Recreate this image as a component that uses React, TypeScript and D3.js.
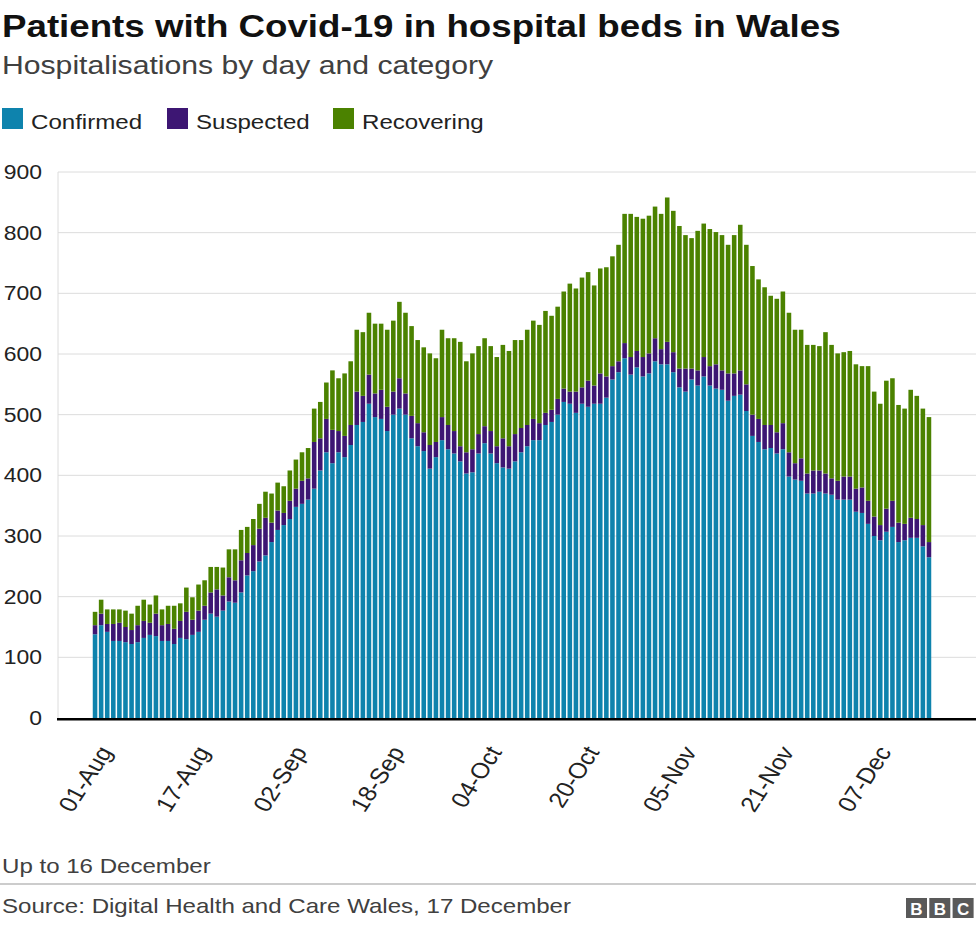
import React from "react";
import * as d3 from "d3";

const confirmed = [
  138,153,142,127,127,125,122,125,132,137,
  135,127,127,122,132,130,137,142,162,172,
  167,177,192,190,207,235,242,258,268,290,
  310,318,328,348,353,360,378,408,438,420,
  438,430,450,483,488,518,496,493,473,500,
  510,500,461,448,440,411,430,458,443,436,
  423,403,405,436,453,436,420,413,411,423,
  438,448,458,458,483,488,500,521,518,503,
  518,513,518,518,528,558,570,593,566,578,
  563,568,588,583,583,570,545,538,558,548,
  563,548,543,541,523,531,533,506,465,455,
  443,445,436,443,398,393,391,370,370,373,
  370,368,360,360,360,340,338,320,300,293,
  307,315,290,293,297,297,283,265,
];
const suspected = [
  15,19,13,28,30,25,23,28,28,20,
  37,26,28,25,28,45,25,35,23,35,
  45,25,40,37,53,37,43,54,62,32,
  32,20,30,30,38,35,77,53,55,55,
  35,35,33,55,43,48,39,48,40,38,
  50,35,37,38,31,39,25,38,40,37,
  25,35,38,32,28,37,28,48,37,45,
  40,35,35,28,20,20,26,22,20,35,
  27,43,30,50,35,22,18,25,29,27,
  32,33,38,25,37,33,31,38,18,25,
  32,32,40,32,45,37,40,44,35,38,
  40,38,35,43,40,27,37,33,38,35,
  33,27,31,38,38,38,42,38,32,25,
  38,43,32,27,33,31,35,25,
];
const recovering = [
  22,23,24,24,22,27,27,32,35,30,
  30,26,30,38,29,40,37,43,42,42,
  37,46,46,51,50,43,43,41,43,48,
  46,44,50,48,47,50,55,60,60,98,
  87,103,105,102,105,102,115,109,127,117,
  126,133,148,137,140,151,138,144,143,153,
  172,150,158,145,145,140,147,154,157,155,
  145,157,162,162,168,155,152,160,178,170,
  181,179,165,173,180,181,192,213,236,221,
  228,227,217,223,238,233,235,220,215,230,
  220,226,218,223,212,228,240,230,245,230,
  227,213,220,217,230,220,212,212,207,205,
  233,220,210,205,207,205,200,222,206,200,
  211,202,194,190,211,203,192,206,
];

const seriesKeys = ["confirmed", "suspected", "recovering"];
const seriesLabels = ["Confirmed", "Suspected", "Recovering"];
const seriesColors = ["#0e83ad", "#3d1673", "#4b8200"];

const startDate = new Date(2020, 7, 1);
const days = d3.timeDay.range(startDate, d3.timeDay.offset(startDate, confirmed.length));
const fmt = d3.timeFormat("%d-%b");
const tickLabels = ["01-Aug", "17-Aug", "02-Sep", "18-Sep", "04-Oct", "20-Oct", "05-Nov", "21-Nov", "07-Dec"];
const yTicks = [0, 100, 200, 300, 400, 500, 600, 700, 800, 900];

const W = 976;
const H = 930;
const SX = 1.147;
const FONT = "'Liberation Sans', Arial, Helvetica, sans-serif";

export default function App() {
  const rows = days.map((d, i) => ({
    key: fmt(d),
    confirmed: confirmed[i],
    suspected: suspected[i],
    recovering: recovering[i],
  }));
  const stacked = d3.stack<any>().keys(seriesKeys)(rows);

  const x = d3
    .scaleBand<string>()
    .domain(rows.map((r) => r.key))
    .range([92, 932])
    .paddingInner(0.25)
    .paddingOuter(0.125);
  const y = d3.scaleLinear().domain([0, 900]).range([718, 172]);

  const legendX = [2, 167, 333];

  const T = (tx: number, ty: number, extra = "") => `translate(${tx},${ty}) scale(${SX},1)${extra}`;

  return (
    <svg
      width={W}
      height={H}
      style={{ position: "absolute", left: 0, top: 0, background: "#fff" }}
      fontFamily={FONT}
    >
      <rect x={0} y={0} width={W} height={H} fill="#ffffff" />
      {/* Title */}
      <text transform={T(2, 37)} fontSize={32} fontWeight="bold" fill="#111">
        Patients with Covid-19 in hospital beds in Wales
      </text>
      <text transform={T(2, 74)} fontSize={26.3} fill="#404040">
        Hospitalisations by day and category
      </text>

      {/* Legend */}
      {seriesLabels.map((lab, i) => (
        <g key={lab}>
          <rect x={legendX[i]} y={108} width={21} height={21} fill={seriesColors[i]} />
          <text transform={T(legendX[i] + 29, 129)} fontSize={21} fill="#222">
            {lab}
          </text>
        </g>
      ))}

      {/* Grid */}
      {yTicks.map((t) => (
        <g key={t}>
          {t > 0 && (
            <line x1={58} x2={W} y1={y(t)} y2={y(t)} stroke="#dcdcdc" strokeWidth={1} />
          )}
          <text transform={T(42, y(t) + 7)} fontSize={20} fill="#222" textAnchor="end">
            {t}
          </text>
        </g>
      ))}
      <line x1={58} x2={58} y1={y(900)} y2={y(0)} stroke="#dcdcdc" strokeWidth={1} />

      {/* Bars */}
      {stacked.map((s, si) => (
        <g key={s.key} fill={seriesColors[si]}>
          {s.map((d: any, i: number) => (
            <rect
              key={i}
              x={x(rows[i].key)}
              width={x.bandwidth()}
              y={y(d[1])}
              height={y(d[0]) - y(d[1])}
            />
          ))}
        </g>
      ))}

      {/* Baseline */}
      <line x1={57} x2={W} y1={719.3} y2={719.3} stroke="#000" strokeWidth={2.5} />

      {/* X labels */}
      {tickLabels.map((lab) => {
        const cx = (x(lab) as number) + x.bandwidth() / 2;
        return (
          <text
            key={lab}
            transform={T(cx + 18, 752, " rotate(-60)")}
            fontSize={22}
            fill="#222"
            textAnchor="end"
          >
            {lab}
          </text>
        );
      })}

      {/* Footer */}
      <text transform={T(2, 873)} fontSize={21} fill="#404040">
        Up to 16 December
      </text>
      <line x1={0} x2={W} y1={884} y2={884} stroke="#cccccc" strokeWidth={2} />
      <text transform={T(2, 913)} fontSize={21} fill="#404040">
        Source: Digital Health and Care Wales, 17 December
      </text>
      {["B", "B", "C"].map((c, i) => (
        <g key={i}>
          <rect x={906 + i * 23.3} y={898} width={21} height={20} fill="#595959" />
          <text
            x={906 + i * 23.3 + 10.5}
            y={914.5}
            fontSize={17}
            fontWeight="bold"
            fill="#fff"
            textAnchor="middle"
          >
            {c}
          </text>
        </g>
      ))}
    </svg>
  );
}
